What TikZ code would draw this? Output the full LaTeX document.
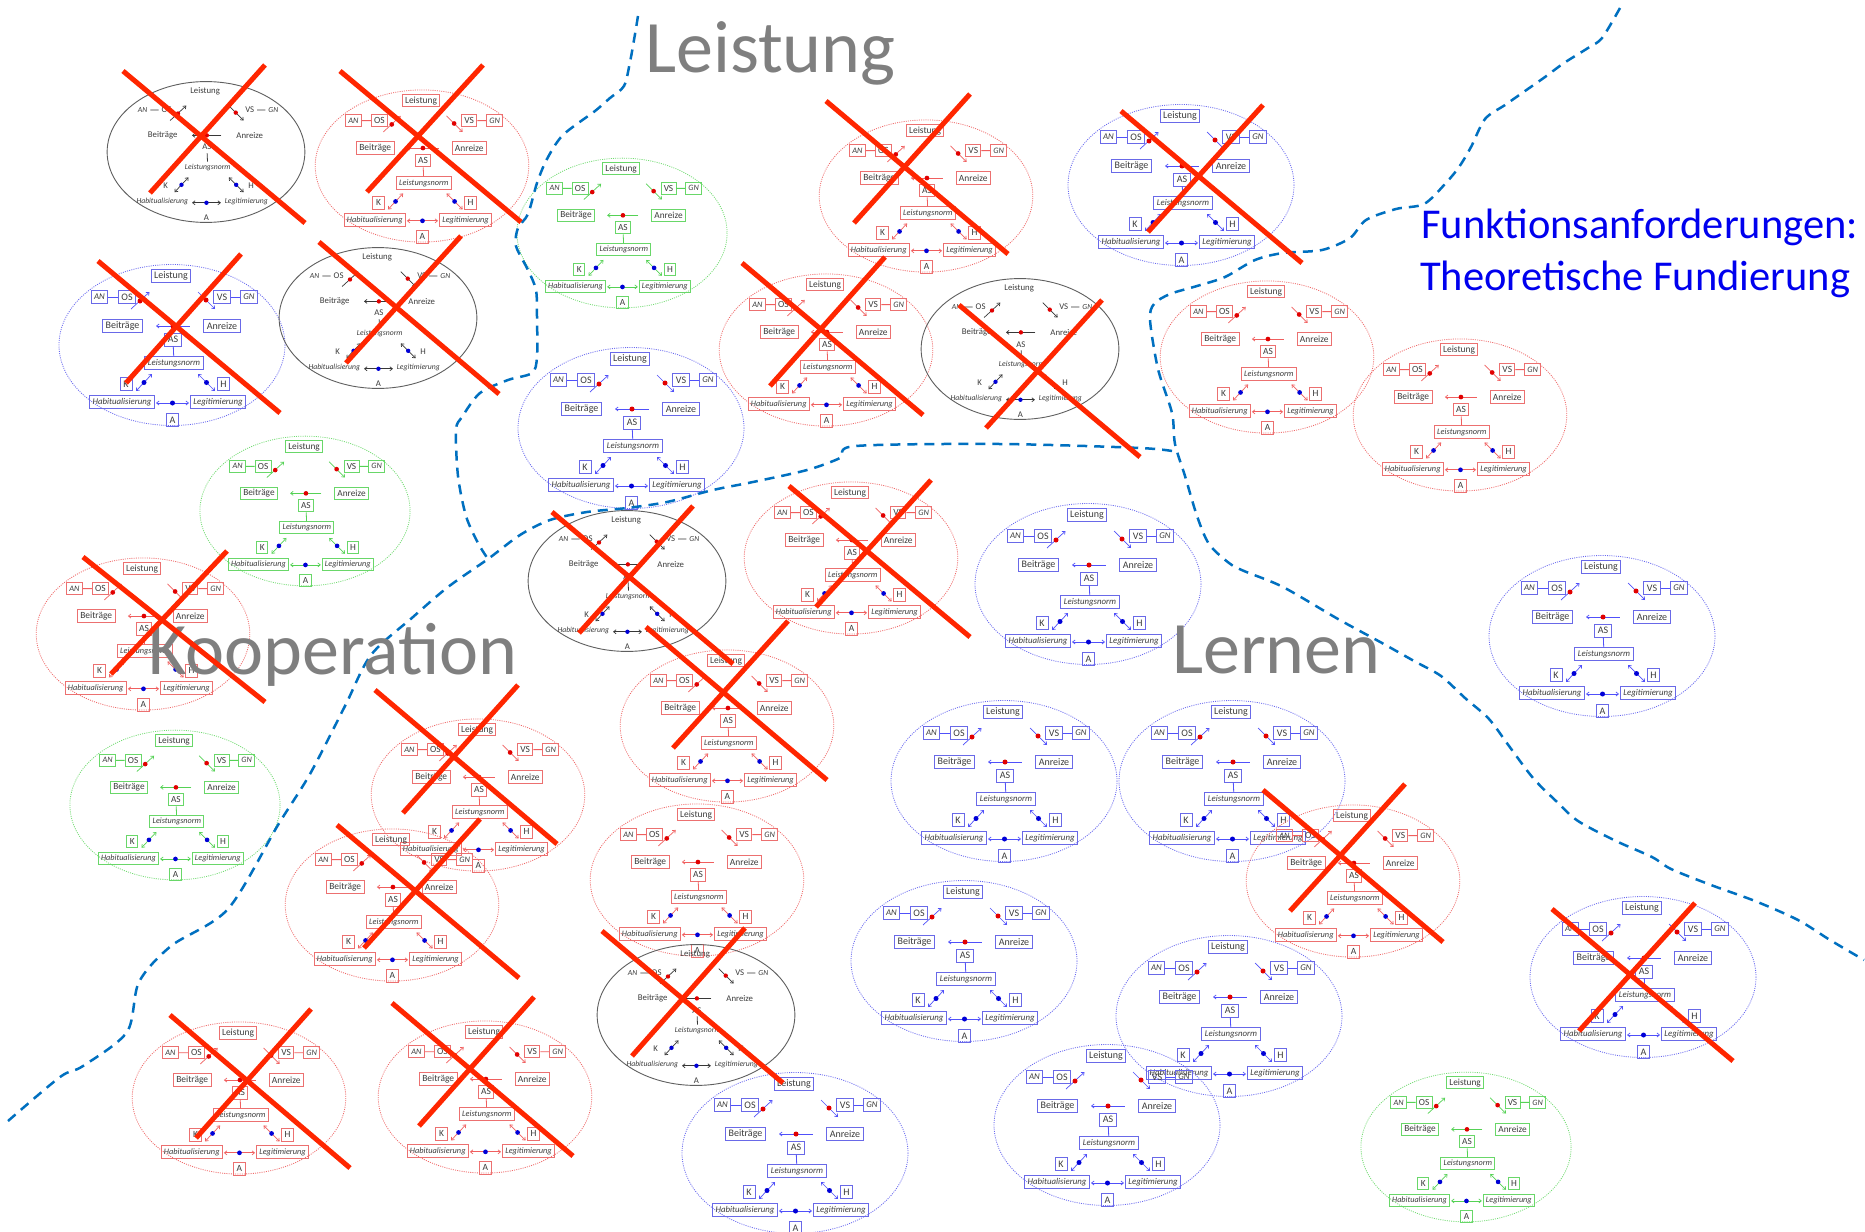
\documentclass[tikz,border=0pt]{standalone}
\usepackage{fontspec}
\setmainfont{Carlito}
\usetikzlibrary{arrows.meta}
\definecolor{txt}{RGB}{60,60,60}
\definecolor{bxB}{RGB}{105,105,232}
\definecolor{bxR}{RGB}{236,112,112}
\definecolor{bxG}{RGB}{105,215,105}
\definecolor{elB}{RGB}{105,105,240}
\definecolor{elR}{RGB}{240,105,105}
\definecolor{elG}{RGB}{115,220,115}
\definecolor{elK}{RGB}{95,95,95}
\definecolor{arB}{RGB}{80,80,250}
\definecolor{arR}{RGB}{240,95,95}
\definecolor{arG}{RGB}{85,210,85}
\definecolor{arK}{RGB}{55,55,55}
\definecolor{dotR}{RGB}{225,0,0}
\definecolor{dotB}{RGB}{0,0,215}
\definecolor{xred}{RGB}{255,38,0}
\definecolor{dash}{RGB}{0,112,192}
\definecolor{titlegray}{RGB}{127,127,127}
\definecolor{titleblue}{RGB}{0,0,238}
\tikzset{
  mbox/.style={draw=#1, line width=0.9pt, inner xsep=3pt, inner ysep=1.5pt,
    minimum height=13pt, minimum width=12pt, text=txt,
    font=\fontsize{10}{11}\selectfont, transform shape},
  mibox/.style={mbox=#1, font=\fontsize{8.8}{10}\selectfont\itshape},
  ellB/.style={draw=elB, line width=0.8pt, dash pattern=on 1pt off 1.2pt},
  ellR/.style={draw=elR, line width=0.8pt, dash pattern=on 1pt off 1.2pt},
  ellG/.style={draw=elG, line width=0.8pt, dash pattern=on 1pt off 1.2pt},
  ellK/.style={draw=elK, line width=0.9pt},
  lnk/.style={draw=#1, line width=0.8pt},
  marr/.style={draw=#1, line width=0.7pt, -{Straight Barb[length=2.5pt,width=4pt]}},
  mdarr/.style={draw=#1, line width=0.7pt,
    {Straight Barb[length=2.5pt,width=4pt]}-{Straight Barb[length=2.5pt,width=4pt]}},
  xline/.style={draw=xred, line width=5pt},
  dashline/.style={draw=dash, line width=2.5pt, dash pattern=on 10pt off 7pt},
  bigtitle/.style={anchor=base west, inner sep=0pt, text=titlegray,
    font=\fontsize{74}{74}\selectfont},
  bluetitle/.style={anchor=base west, inner sep=0pt, text=titleblue,
    font=\fontsize{42.5}{44}\selectfont},
  pics/mini/.style n args={3}{code={
    \draw[#2] (0,0) ellipse [x radius=113, y radius=80.5];
    \node[mbox=#1] (-lei) at (-1,-69) {Leistung};
    \node[mibox=#1] (-an) at (-72.5,-48) {AN};
    \node[mbox=#1] (-os) at (-45,-48) {OS};
    \node[mbox=#1] (-vs) at (50,-48) {VS};
    \node[mibox=#1] (-gn) at (77,-48) {GN};
    \node[mbox=#1] (-bei) at (-49.5,-19) {Beiträge};
    \node[mbox=#1] (-anr) at (50,-19) {Anreize};
    \node[mbox=#1] (-as) at (1,-5.5) {AS};
    \node[mibox=#1] (-ln) at (2,18) {Leistungsnorm};
    \node[mbox=#1] (-k) at (-46,39) {K};
    \node[mbox=#1] (-h) at (51.5,39) {H};
    \node[mibox=#1] (-hab) at (-50,57) {Habitualisierung};
    \node[mibox=#1] (-leg) at (46,57) {Legitimierung};
    \node[mbox=#1] (-a) at (0.5,75) {A};
    \draw[lnk=#3] (-an) -- (-os);
    \draw[lnk=#3] (-vs) -- (-gn);
    \draw[lnk=#3] (-as) -- (-ln);
    \draw[marr=#3] (-41,-36) -- (-22.5,-53);
    \draw[marr=#3] (26,-53) -- (43,-36);
    \draw[marr=#3] (17.5,-19) -- (-16,-19);
    \draw[mdarr=#3] (-36,46) -- (-20,29);
    \draw[mdarr=#3] (26,29) -- (43,46);
    \draw[mdarr=#3] (-16,58) -- (17,58);
    \fill[dotR] (-32,-44) circle (2.5);
    \fill[dotR] (34,-45) circle (2.5);
    \fill[dotR] (1,-19) circle (2.5);
    \fill[dotB] (-28,37.5) circle (2.5);
    \fill[dotB] (34.5,37.5) circle (2.5);
    \fill[dotB] (0.5,58) circle (2.5);
  }}
}
\begin{document}
\begin{tikzpicture}[x=1pt,y=-1pt]
\useasboundingbox (0,0) rectangle (1865,1231);
\fill[white] (0,0) rectangle (1865,1231);
% blue diagrams
\foreach \n/\px/\py in {d5/1181/185, d6/172/345, d12/631/428, d17/1088/584,
  d18/1602/636, d24/1004/781, d25/1232/781, d27/964/961, d28/1229/1016,
  d32/795/1153, d33/1107/1125, d34/1643/977}
  \pic (\n) at (\px,\py) {mini={bxB}{ellB}{arB}};
% red diagrams
\foreach \n/\px/\py in {d2/422/166, d4/926/196, d8/826/350, d10/1267/357,
  d11/1460/415, d14/143/634, d16/851/558, d20/727/726, d21/478/795,
  d22/392/905, d23/697/880, d26/1353/881, d30/239/1098, d31/485/1097}
  \pic[scale=0.945] (\n) at (\px,\py) {mini={bxR}{ellR}{arR}};
% green diagrams
\foreach \n/\px/\py in {d3/622/233, d13/305/511, d19/175/805, d35/1466/1147}
  \pic[scale=0.93] (\n) at (\px,\py) {mini={bxG}{ellG}{arG}};
% black diagrams
\foreach \n/\px/\py in {d1/206/152, d7/378/318, d9/1020/349, d15/627/581, d29/696/1015}
  \pic[scale=0.875] (\n) at (\px,\py) {mini={none}{ellK}{arK}};
% dashed borders
\draw[dashline] plot[smooth, tension=0.5] coordinates {(638,16) (634,40) (630,62) (624,86)
  (610,98) (595,111) (563,135) (547,159) (537,183) (528,214) (518,228) (516,246)
  (528,270) (536,290) (537,317) (537,357) (532,373) (508,380) (480,393) (462,417)
  (456,430) (458,476) (466,516) (478,543) (488,559)};
\draw[dashline] plot[smooth, tension=0.5] coordinates {(8,1121) (60,1077) (83,1066)
  (127,1032) (139,982) (171,946) (228,909) (278,825) (310,774) (345,706) (371,655)
  (413,617) (448,587) (488,559) (520,535) (550,520) (587,512) (627,508) (667,502)
  (713,490) (753,482) (807,470) (840,458) (856,446) (1000,444) (1140,448) (1178,452)};
\draw[dashline] plot[smooth, tension=0.5] coordinates {(1620,8) (1602,38) (1588,48)
  (1564,63) (1545,77) (1525,91) (1505,105) (1485,119) (1471,147) (1459,167) (1445,184)
  (1424,204) (1396,209) (1366,220) (1350,238) (1322,250) (1283,253) (1255,260)
  (1225,277) (1197,286) (1170,294) (1154,304) (1150,320) (1158,369) (1172,413)
  (1175,444) (1185,476) (1197,516) (1209,544) (1229,563) (1244,571) (1283,587)
  (1338,619) (1382,643) (1414,661) (1441,676) (1465,698) (1489,719) (1509,746)
  (1533,778) (1556,801) (1578,821) (1616,841) (1652,857) (1671,869) (1711,885)
  (1755,901) (1798,920) (1830,940) (1864,960)};
% titles
\node[bigtitle] (tleist) at (645,72) {Leistung};
\node[bigtitle] (tkoop) at (148,674) {Kooperation};
\node[bigtitle] (tlern) at (1172,673) {Lernen};
\node[bluetitle] (tfunk) at (1421,238) {Funktionsanforderungen:};
\node[bluetitle] (ttheo) at (1420,290) {Theoretische Fundierung};
% red crosses
\foreach \a/\b/\c/\d/\e/\f/\g/\h in {
  123/71/305/223/265/65/150/193,
  340/71/521/222/483/65/367/192,
  826/101/1008/254/970/94/854/223,
  1121/111/1302/263/1263/105/1148/232,
  98/261/280/413/241/254/126/383,
  319/242/499/394/461/236/346/363,
  742/263/923/415/885/257/770/386,
  959/305/1140/457/1102/300/986/428,
  83/557/265/702/227/551/111/674,
  552/512/733/664/693/506/579/633,
  789/486/970/637/931/480/816/607,
  646/627/827/780/788/621/673/748,
  375/690/557/844/518/685/403/813,
  337/825/519/978/480/819/364/948,
  1263/790/1443/942/1405/784/1290/911,
  602/931/783/1083/745/928/632/1056,
  170/1015/350/1168/311/1009/196/1138,
  392/1003/573/1156/534/997/419/1126,
  1552/909/1733/1061/1695/903/1579/1031}
{
  \draw[xline] (\a,\b) -- (\c,\d);
  \draw[xline] (\e,\f) -- (\g,\h);
}
\end{tikzpicture}
\end{document}
